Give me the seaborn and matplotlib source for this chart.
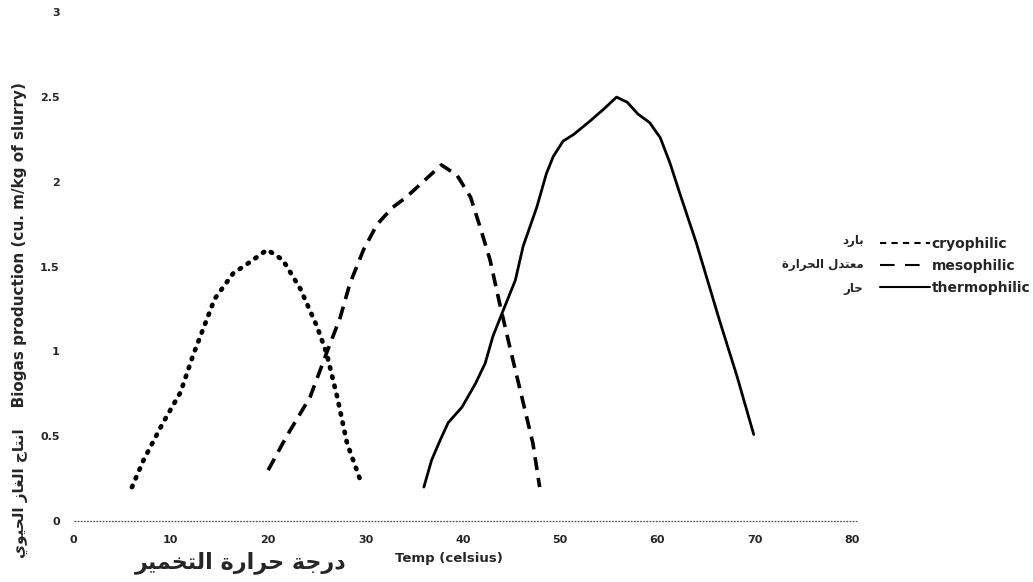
import matplotlib
matplotlib.use("Agg")
import matplotlib.pyplot as plt
from matplotlib.lines import Line2D
import numpy as np
import pandas as pd
import seaborn as sns

# curves (temperature in C, biogas in cu. m/kg of slurry)
cryo_temp = [6.0, 7.2, 9.2, 11.0, 12.3, 13.3, 14.5, 16.4, 18.2, 19.9, 21.5, 23.3, 25.0, 26.0, 27.1, 28.1, 29.6]
cryo_gas = [0.20, 0.36, 0.58, 0.76, 0.98, 1.13, 1.31, 1.46, 1.53, 1.60, 1.54, 1.37, 1.15, 0.99, 0.73, 0.46, 0.22]

meso_temp = [20.0, 21.9, 24.3, 26.0, 27.4, 28.4, 29.8, 31.2, 32.8, 34.2, 35.9, 37.8, 39.4, 40.8, 41.8, 42.8, 43.8, 44.9, 46.2, 47.2, 47.9]
meso_gas = [0.30, 0.50, 0.73, 0.99, 1.20, 1.40, 1.60, 1.75, 1.85, 1.91, 2.00, 2.10, 2.04, 1.91, 1.73, 1.54, 1.28, 1.01, 0.70, 0.46, 0.20]

thermo_temp = [36.0, 36.8, 37.7, 38.5, 39.9, 41.3, 42.3, 43.1, 44.0, 45.4, 46.2, 47.6, 48.6, 49.3, 50.3, 51.4,
               53.1, 54.5, 55.8, 56.9, 58.0, 59.2, 60.3, 61.3, 62.2, 64.0, 66.4, 68.2, 69.9]
thermo_gas = [0.20, 0.36, 0.48, 0.58, 0.67, 0.81, 0.93, 1.09, 1.22, 1.42, 1.62, 1.85, 2.05, 2.15, 2.24, 2.28,
              2.36, 2.43, 2.50, 2.47, 2.40, 2.35, 2.26, 2.11, 1.95, 1.64, 1.18, 0.85, 0.51]

x_ticks = [0, 10, 20, 30, 40, 50, 60, 70, 80]
y_ticks = [0, 0.5, 1, 1.5, 2, 2.5, 3]
y_tick_labels = ["0", "0.5", "1", "1.5", "2", "2.5", "3"]

series_names = ["cryophilic", "mesophilic", "thermophilic"]
# arabic names, written in presentation forms in visual order (matplotlib does no shaping)
series_names_ar = ["\uFEA9\uFEAD\uFE8E\uFE91",
                   "\uFE93\uFEAD\uFE8D\uFEAE\uFEA4\uFEDF\uFE8D \uFEDD\uFEAA\uFE98\uFECC\uFEE3",
                   "\uFEAD\uFE8E\uFEA3"]
ylabel_ar = "\uFEF1\uFEEE\uFEF4\uFEA4\uFEDF\uFE8D \uFEAF\uFE8E\uFED0\uFEDF\uFE8D \uFE9D\uFE8E\uFE98\uFEE7\uFE8D"
xlabel_ar = "\uFEAE\uFEF4\uFEE4\uFEA8\uFE98\uFEDF\uFE8D \uFE93\uFEAD\uFE8D\uFEAE\uFEA3 \uFE94\uFE9F\uFEAD\uFEA9"

sns.set_style("white")
plt.rcParams['font.family'] = ['DejaVu Sans']

fig = plt.figure(figsize=(10.33, 5.82), dpi=100)
ax = fig.add_axes([0.0712, 0.1048, 0.7536, 0.874])

# the three curves
sns.lineplot(x=cryo_temp, y=cryo_gas, ax=ax, color="black", lw=3.4,
             linestyle=(0, (0.3, 1.7)), dash_capstyle="round", estimator=None)
sns.lineplot(x=meso_temp, y=meso_gas, ax=ax, color="black", lw=2.6,
             linestyle=(0, (3.6, 2.2)), estimator=None)
sns.lineplot(x=thermo_temp, y=thermo_gas, ax=ax, color="black", lw=2.0, estimator=None)

ax.set_xlim(0, 80)
ax.set_ylim(0, 3)
for s in ax.spines.values():
    s.set_visible(False)
ax.plot([0, 80.5], [0, 0], color="#555555", lw=0.9, ls=(0, (1.5, 1)), clip_on=False)

ax.set_xticks(x_ticks)
ax.set_xticklabels([str(t) for t in x_ticks], fontsize=8, fontweight="bold")
ax.set_yticks(y_ticks)
ax.set_yticklabels(y_tick_labels, fontsize=8, fontweight="bold")
ax.tick_params(axis="x", length=0, pad=10)
ax.tick_params(axis="y", length=2, width=1, color="#999999", pad=8)

# axis titles (english + arabic)
fig.text(0.019, 0.45, ylabel_ar + "    " + "Biogas production (cu. m/kg of slurry)",
         rotation=90, ha="center", va="center", fontsize=11, fontweight="bold")
fig.text(0.335, 0.033, xlabel_ar, ha="right", va="center", fontsize=16, fontweight="bold")
fig.text(0.382, 0.040, "Temp (celsius)", ha="left", va="center", fontsize=9.5, fontweight="bold")

# legend to the right of the plot
handles = [Line2D([], [], color="black", lw=1.5, ls=(0, (3, 2.5))),
           Line2D([], [], color="black", lw=1.5, ls=(0, (7, 5))),
           Line2D([], [], color="black", lw=1.5)]
fig.legend(handles, series_names, loc="center left", bbox_to_anchor=(0.840, 0.543),
           frameon=False, handlelength=3.6, handletextpad=0.1, labelspacing=0.55,
           prop={"size": 10, "weight": "bold"})
for i, name in enumerate(series_names_ar):
    fig.text(0.836, 0.586 - i * 0.041, name, ha="right", va="center", fontsize=8.5, fontweight="bold")

fig.savefig("out.png", dpi=100)
